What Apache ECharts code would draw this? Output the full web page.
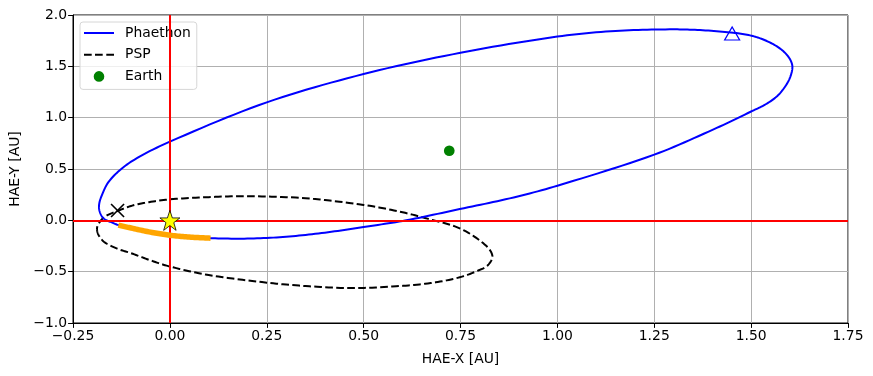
<!DOCTYPE html>
<html>
<head>
<meta charset="utf-8">
<script src="https://cdn.jsdelivr.net/npm/echarts@6/dist/echarts.min.js"></script>
<style>
  html, body { margin: 0; padding: 0; background: #fff; }
  #main { width: 873px; height: 376px; }
</style>
</head>
<body>
<div id="main"></div>
<script>
// orbit points [HAE-X, HAE-Y] in AU
var phaethonOrbit = [
    [-0.183, 0.13], [-0.178, 0.055], [-0.168, 0.01], [-0.15, -0.02], [-0.133, -0.046],
    [-0.1, -0.075], [-0.05, -0.115], [0, -0.145], [0.05, -0.163], [0.1, -0.174],
    [0.2, -0.178], [0.3, -0.16], [0.4, -0.12], [0.5, -0.065], [0.61, 0.0],
    [0.748, 0.11], [0.877, 0.214], [1.0, 0.337], [1.25, 0.64], [1.403, 0.886],
    [1.5, 1.06], [1.539, 1.133], [1.57, 1.22], [1.593, 1.334],
    [1.604, 1.432], [1.606, 1.513], [1.596, 1.594], [1.574, 1.675], [1.539, 1.749],
    [1.501, 1.798], [1.454, 1.827], [1.368, 1.853], [1.29, 1.86], [1.15, 1.845],
    [1.0, 1.79], [0.75, 1.632], [0.5, 1.425], [0.25, 1.149], [0, 0.766],
    [-0.1, 0.571], [-0.155, 0.39], [-0.178, 0.22], [-0.183, 0.13]
];
var pspOrbit = [
    [-0.188, -0.09], [-0.183, -0.15], [-0.168, -0.215], [-0.133, -0.28], [-0.1, -0.32],
    [-0.05, -0.39], [0, -0.45], [0.1, -0.533], [0.25, -0.607], [0.35, -0.64],
    [0.47, -0.66], [0.594, -0.64], [0.68, -0.607], [0.748, -0.555], [0.795, -0.49],
    [0.821, -0.435], [0.832, -0.34], [0.809, -0.224], [0.748, -0.078], [0.671, 0.01],
    [0.594, 0.084], [0.5, 0.15], [0.35, 0.215], [0.2, 0.235], [0.1, 0.226],
    [0, 0.204], [-0.065, 0.17], [-0.1, 0.14], [-0.133, 0.094], [-0.168, 0.035],
    [-0.185, -0.04], [-0.188, -0.09]
];
var orangeArc = [
    [-0.133, -0.046], [-0.1, -0.075], [-0.05, -0.115], [0, -0.145], [0.05, -0.163], [0.105, -0.174]
];
var earthPos = [[0.721, 0.678]];
var sunPos = [[0, 0]];
var crossPos = [[-0.135, 0.096]];
var trianglePos = [[1.451, 1.82]];

var xTicks = { min: -0.25, max: 1.75, step: 0.25 };
var yTicks = { min: -1.0, max: 2.0, step: 0.5 };

var font = 'DejaVu Sans';
var starPath = 'path://M50,2 L61.8,36.2 L97.6,36.2 L68.6,57.4 L79.6,92 L50,70.6 L20.4,92 L31.4,57.4 L2.4,36.2 L38.2,36.2 Z';
// legend icons, 36x14 boxes (tiny corner dots fix the box size)
var corners = 'M0,0h0.01v0.01h-0.01z M35.99,13.99h0.01v0.01h-0.01z ';
var iconLine = 'path://' + corners + 'M0,6h30v2h-30z';
var iconDash = 'path://' + corners + 'M0,6h7.7v2h-7.7z M11,6h7.7v2h-7.7z M22.3,6h7.7v2h-7.7z';
var iconDot = 'path://' + corners + 'M20.3,7 A5.3,5.3 0 1 1 9.7,7 A5.3,5.3 0 1 1 20.3,7 Z';

// smooth curve through the read points, in pixel space
function curvePoints(pts, closed) {
    var n = pts.length;
    if (closed) { pts = pts.slice(0, n - 1); n = pts.length; }
    function at(i) {
        if (closed) return pts[(i + n) % n];
        return pts[Math.max(0, Math.min(n - 1, i))];
    }
    function dir(i) {
        var a = at(i - 1), b = at(i + 1);
        var dx = b[0] - a[0], dy = b[1] - a[1];
        var l = Math.sqrt(dx * dx + dy * dy) || 1;
        return [dx / l, dy / l];
    }
    var out = [];
    var segs = closed ? n : n - 1;
    for (var i = 0; i < segs; i++) {
        var p1 = at(i), p2 = at(i + 1);
        var d1 = dir(i), d2 = dir(i + 1);
        var len = Math.sqrt(Math.pow(p2[0] - p1[0], 2) + Math.pow(p2[1] - p1[1], 2)) / 3;
        var c1 = [p1[0] + d1[0] * len, p1[1] + d1[1] * len];
        var c2 = [p2[0] - d2[0] * len, p2[1] - d2[1] * len];
        for (var k = 0; k < 12; k++) {
            var t = k / 12, u = 1 - t;
            out.push([
                u * u * u * p1[0] + 3 * u * u * t * c1[0] + 3 * u * t * t * c2[0] + t * t * t * p2[0],
                u * u * u * p1[1] + 3 * u * u * t * c1[1] + 3 * u * t * t * c2[1] + t * t * t * p2[1]
            ]);
        }
    }
    out.push(closed ? at(0) : at(n - 1));
    return out;
}

function curveSeries(name, data, closed, color, width, dash, z) {
    return {
        name: name,
        type: 'custom',
        data: data,
        z: z,
        encode: { x: 0, y: 1 },
        itemStyle: { color: color },
        renderItem: function (params, api) {
            if (params.dataIndex !== 0) return;
            var px = data.map(function (p) { return api.coord(p); });
            return {
                type: 'polyline',
                shape: { points: curvePoints(px, closed) },
                style: { stroke: color, fill: 'none', lineWidth: width, lineDash: dash, lineCap: 'butt' }
            };
        }
    };
}

var myChart = echarts.init(document.getElementById('main'));

myChart.setOption({
    animation: false,
    grid: {
        left: 73,
        right: 25,
        top: 15,
        bottom: 53,
        show: true,
        borderColor: '#000',
        borderWidth: 1
    },
    legend: {
        left: 80,
        top: 22,
        orient: 'vertical',
        data: [
            { name: 'Phaethon', icon: iconLine },
            { name: 'PSP', icon: iconDash },
            { name: 'Earth', icon: iconDot }
        ],
        itemWidth: 36,
        itemHeight: 14,
        itemGap: 7.7,
        padding: [4, 6, 6, 4],
        borderColor: '#d6d6d6',
        borderWidth: 1,
        borderRadius: 3,
        backgroundColor: 'rgba(255,255,255,0.8)',
        textStyle: { fontFamily: font, fontSize: 13.9, color: '#000' }
    },
    xAxis: {
        type: 'value',
        min: xTicks.min,
        max: xTicks.max,
        interval: xTicks.step,
        name: 'HAE-X [AU]',
        nameLocation: 'middle',
        nameGap: 29,
        nameTextStyle: { fontFamily: font, fontSize: 13.9, color: '#000' },
        axisLine: { show: true, onZero: false, lineStyle: { color: '#000' } },
        axisTick: { show: true, length: 4.9, lineStyle: { color: '#000' } },
        axisLabel: {
            fontFamily: font, fontSize: 13.9, color: '#000', margin: 6,
            formatter: function (v) { return v.toFixed(2).replace('-', '\u2212'); }
        },
        splitLine: { show: true, lineStyle: { color: '#b0b0b0', width: 1 } }
    },
    yAxis: {
        type: 'value',
        min: yTicks.min,
        max: yTicks.max,
        interval: yTicks.step,
        name: 'HAE-Y [AU]',
        nameLocation: 'middle',
        nameGap: 48,
        nameTextStyle: { fontFamily: font, fontSize: 13.9, color: '#000' },
        axisLine: { show: true, onZero: false, lineStyle: { color: '#000' } },
        axisTick: { show: true, length: 4.9, lineStyle: { color: '#000' } },
        axisLabel: {
            fontFamily: font, fontSize: 13.9, color: '#000', margin: 6,
            formatter: function (v) { return v.toFixed(1).replace('-', '\u2212'); }
        },
        splitLine: { show: true, lineStyle: { color: '#b0b0b0', width: 1 } }
    },
    series: [
        {
            // red axes through the Sun
            name: 'axes',
            type: 'line',
            data: [],
            z: 1,
            markLine: {
                silent: true,
                symbol: 'none',
                label: { show: false },
                lineStyle: { color: '#ff0000', width: 2, type: 'solid' },
                data: [{ xAxis: 0 }, { yAxis: 0 }]
            }
        },
        curveSeries('PSP', pspOrbit, true, '#000000', 2, [7.7, 3.3], 3),
        curveSeries('Phaethon', phaethonOrbit, true, '#0000ff', 2, null, 4),
        curveSeries('track', orangeArc, false, '#ffa500', 5.5, null, 5),
        {
            name: 'Earth',
            type: 'scatter',
            data: earthPos,
            symbol: 'circle',
            symbolSize: 10.7,
            z: 6,
            itemStyle: { color: '#008000', opacity: 1 }
        },
        {
            name: 'Sun',
            type: 'scatter',
            data: sunPos,
            symbol: starPath,
            symbolSize: 20,
            z: 7,
            itemStyle: { color: '#ffff00', borderColor: '#000', borderWidth: 0.8, opacity: 1 }
        },
        {
            name: 'cross',
            type: 'scatter',
            data: crossPos,
            symbol: 'path://M0,0L10,10M10,0L0,10',
            symbolSize: 13,
            z: 7,
            itemStyle: { color: 'none', borderColor: '#000', borderWidth: 1.6, opacity: 1 }
        },
        {
            name: 'triangle',
            type: 'scatter',
            data: trianglePos,
            symbol: 'triangle',
            symbolSize: [15, 13],
            z: 7,
            itemStyle: { color: 'rgba(255,255,255,0)', borderColor: '#0000ff', borderWidth: 1.2, opacity: 1 }
        }
    ]
});
</script>
</body>
</html>
